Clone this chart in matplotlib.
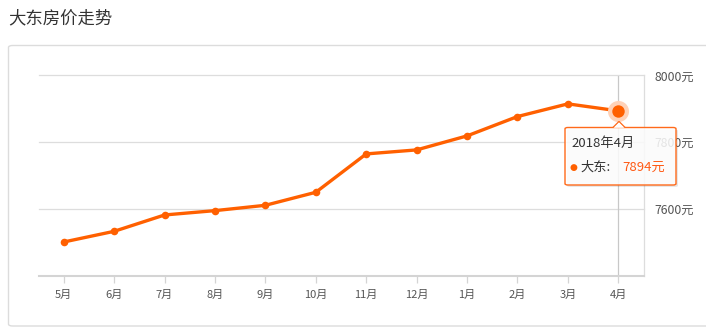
import matplotlib
matplotlib.use("Agg")
import matplotlib.pyplot as plt
from matplotlib.patches import FancyBboxPatch, Polygon
import numpy as np

plt.rcParams['font.family'] = ['Noto Sans CJK SC', 'DejaVu Sans']

title = "大东房价走势"
months = ["5月", "6月", "7月", "8月", "9月", "10月", "11月", "12月", "1月", "2月", "3月", "4月"]
prices = [7501, 7533, 7582, 7595, 7611, 7650, 7765, 7777, 7819, 7877, 7915, 7894]
yticks = [7600, 7800, 8000]
ytick_labels = ["7600元", "7800元", "8000元"]
tip_title = "2018年4月"
series_name = "大东"

W, H = 706, 333
fig = plt.figure(figsize=(W / 100, H / 100), dpi=100)
fig.patch.set_facecolor("white")

def fx(px):
    return px / W

def fy(py):
    return 1 - py / H

# card border (left/top/bottom visible)
card = FancyBboxPatch((fx(8.5), fy(326)), fx(720) - fx(8.5), fy(45.5) - fy(326),
                      boxstyle="round,pad=0,rounding_size=0.006", transform=fig.transFigure,
                      facecolor="none", edgecolor="#dcdcdc", linewidth=1.0, zorder=-5)
fig.patches.append(card)

fig.text(fx(8), fy(18), title, fontsize=12.5, color="#333333", va="center", ha="left")

left, right, top, bottom = 38.5, 643.5, 75.5, 275.7
ax = fig.add_axes([fx(left), fy(bottom), fx(right) - fx(left), fy(top) - fy(bottom)])
ax.set_facecolor("none")
n = len(months)
x = np.arange(n)
ax.set_xlim(-0.5, n - 0.5)
ax.set_ylim(7400, 8000)

for yv in yticks:
    ax.axhline(yv, color="#dddddd", linewidth=0.9, zorder=1, clip_on=False)

ax.plot(x, prices, color="#ff6000", linewidth=2.4, zorder=3, solid_capstyle="round")
ax.scatter(x[:-1], prices[:-1], s=30, color="#ff6000", zorder=4, linewidths=0)

# crosshair on last point
ax.axvline(x[-1], color="#c8c8c8", linewidth=0.9, zorder=2)
ax.scatter([x[-1]], [prices[-1]], s=230, color="#ffd2b8", zorder=4, linewidths=0)
ax.scatter([x[-1]], [prices[-1]], s=80, color="#ff6000", zorder=5, linewidths=0)

for s in ["top", "left"]:
    ax.spines[s].set_visible(False)
ax.spines["right"].set_color("#dddddd")
ax.spines["right"].set_linewidth(0.9)
ax.spines["bottom"].set_color("#d4d4d4")
ax.spines["bottom"].set_linewidth(1.5)

ax.set_xticks(x)
ax.set_xticklabels(months)
ax.tick_params(axis="x", length=5, width=0.9, color="#d4d4d4", labelsize=8, labelcolor="#555555", pad=5)
ax.yaxis.tick_right()
ax.set_yticks(yticks)
ax.set_yticklabels(ytick_labels)
ax.tick_params(axis="y", length=0, labelsize=8.8, labelcolor="#555555", pad=8)

# tooltip
tl, tr, tt, tb = 565, 676, 127.5, 185
shadow = FancyBboxPatch((fx(tl + 2), fy(tb + 2)), fx(tr) - fx(tl), fy(tt) - fy(tb),
                        boxstyle="round,pad=0,rounding_size=0.004", transform=fig.transFigure,
                        facecolor="#00000018", edgecolor="none", zorder=9)
fig.patches.append(shadow)
box = FancyBboxPatch((fx(tl), fy(tb)), fx(tr) - fx(tl), fy(tt) - fy(tb),
                     boxstyle="round,pad=0,rounding_size=0.004", transform=fig.transFigure,
                     facecolor=(1, 1, 1, 0.85), edgecolor="#ff6a1a", linewidth=1.0, zorder=10)
fig.patches.append(box)
ptr = Polygon([(fx(613), fy(tt)), (fx(619), fy(tt - 6)), (fx(625), fy(tt))], closed=False,
              transform=fig.transFigure, facecolor="white", edgecolor="#ff6a1a", linewidth=1.0, zorder=11)
fig.patches.append(ptr)
fig.patches.append(Polygon([(fx(613.8), fy(tt + 0.2)), (fx(619), fy(tt - 5)), (fx(624.2), fy(tt + 0.2))],
                           closed=True, transform=fig.transFigure, facecolor="white", edgecolor="none", zorder=12))

fig.text(fx(571), fy(143), tip_title, fontsize=9.5, color="#333333", va="center", ha="left", zorder=13)
fig.text(fx(569.5), fy(168), "●", fontsize=6.5, color="#ff6000", va="center", ha="left", zorder=13,
         family=['DejaVu Sans'])
fig.text(fx(580), fy(167), series_name + ":", fontsize=9.5, color="#333333", va="center", ha="left", zorder=13)
fig.text(fx(622), fy(167), f"{prices[-1]}元", fontsize=9.5, color="#ff5a14", va="center", ha="left", zorder=13)

fig.savefig("out.png", dpi=100, facecolor="white")
